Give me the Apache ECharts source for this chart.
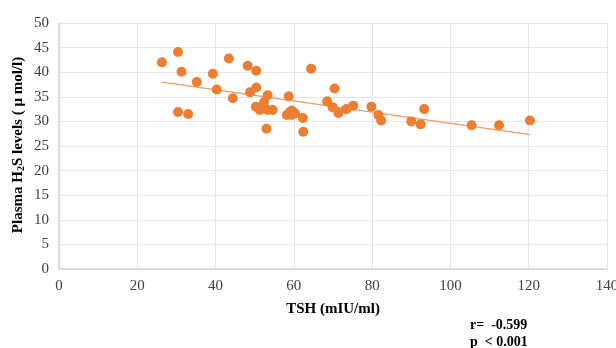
<!DOCTYPE html>
<html>
<head>
<meta charset="utf-8">
<script src="https://cdn.jsdelivr.net/npm/echarts@6/dist/echarts.min.js"></script>
<style>
  html, body { margin: 0; padding: 0; background: #fff; }
  #chart { width: 616px; height: 348px; }
</style>
</head>
<body>
<div id="chart"></div>
<script>
// TSH (mIU/ml) vs plasma H2S (µmol/l)
const tshValues = [
  26.3, 30.4, 31.3, 30.4, 33.0, 35.2, 39.3, 40.3, 43.4, 44.4,
  48.2, 50.4, 48.8, 50.4, 50.3, 51.3, 52.4, 53.3, 53.0, 53.3,
  54.6, 58.7, 58.2, 59.5, 59.4, 60.3, 59.0, 62.3, 62.4, 64.4,
  68.5, 70.4, 69.9, 71.4, 73.4, 75.2, 79.8, 81.6, 82.3, 90.0,
  92.4, 93.3, 105.4, 112.4, 120.3
];
const h2sValues = [
  42.0, 44.1, 40.1, 31.9, 31.5, 38.0, 39.7, 36.5, 42.8, 34.7,
  41.3, 40.3, 35.9, 36.9, 33.0, 32.3, 33.9, 35.3, 28.5, 32.3,
  32.3, 35.1, 31.3, 32.2, 31.3, 31.6, 31.9, 30.7, 27.9, 40.7,
  34.1, 36.7, 32.9, 31.7, 32.5, 33.2, 33.0, 31.3, 30.2, 30.0,
  29.4, 32.5, 29.2, 29.2, 30.2
];
// linear trend line, ends
const trendX = [26.3, 120.3];
const trendY = [38.0, 27.3];

const xTicks = { min: 0, max: 140, interval: 20 };
const yTicks = { min: 0, max: 50, interval: 5 };

const serif = '"Liberation Serif", "Times New Roman", serif';
const orange = '#ED7D31';

const chart = echarts.init(document.getElementById('chart'), null, { renderer: 'canvas' });

chart.setOption({
  animation: false,
  grid: {
    left: 59,
    right: 9,
    top: 23,
    bottom: 79,
    outerBoundsMode: 'none'
  },
  xAxis: {
    type: 'value',
    ...xTicks,
    name: 'TSH (mIU/ml)',
    nameLocation: 'middle',
    nameGap: 33,
    nameTextStyle: { fontFamily: serif, fontWeight: 'bold', fontSize: 15, color: '#000' },
    axisLine: { show: true, lineStyle: { color: '#D0D5DD', width: 1.5 } },
    axisTick: { show: false },
    axisLabel: { fontFamily: serif, fontSize: 15, color: '#404040', margin: 10 },
    splitLine: { show: true, lineStyle: { color: '#E3E6EC', width: 1 } }
  },
  yAxis: {
    type: 'value',
    ...yTicks,
    axisLine: { show: true, lineStyle: { color: '#D0D5DD', width: 1.5 } },
    axisTick: { show: false },
    axisLabel: { fontFamily: serif, fontSize: 15, color: '#404040', margin: 10 },
    splitLine: { show: true, lineStyle: { color: '#E3E6EC', width: 1 } }
  },
  graphic: [
    {
      type: 'text',
      x: 18,
      y: 145,
      rotation: Math.PI / 2,
      style: {
        text: '{a|Plasma H}{s|2}{a|S levels ( μ mol/l)}',
        align: 'center',
        verticalAlign: 'middle',
        fill: '#000',
        rich: {
          a: { fontFamily: serif, fontWeight: 'bold', fontSize: 15, fill: '#000' },
          s: { fontFamily: serif, fontWeight: 'bold', fontSize: 10, fill: '#000', verticalAlign: 'bottom', padding: [6, 0, 0, 0] }
        }
      }
    },
    {
      type: 'text',
      left: 470,
      top: 318,
      style: { text: 'r=  -0.599', fontFamily: serif, fontWeight: 'bold', fontSize: 14, fill: '#000' }
    },
    {
      type: 'text',
      left: 470,
      top: 335,
      style: { text: 'p  < 0.001', fontFamily: serif, fontWeight: 'bold', fontSize: 14, fill: '#000' }
    }
  ],
  series: [
    {
      type: 'scatter',
      symbolSize: 10,
      itemStyle: { color: orange, opacity: 1 },
      data: tshValues.map((x, i) => [x, h2sValues[i]]),
      z: 3
    },
    {
      type: 'line',
      symbol: 'none',
      lineStyle: { color: '#F29A5E', width: 1.2 },
      data: trendX.map((x, i) => [x, trendY[i]]),
      z: 2
    }
  ]
});
</script>
</body>
</html>
